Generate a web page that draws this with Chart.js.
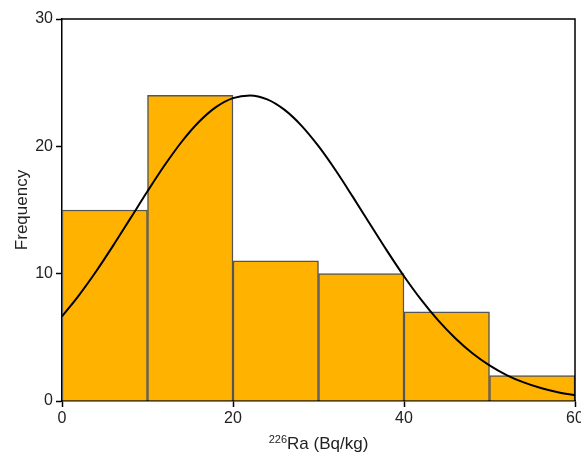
<!DOCTYPE html>
<html>
<head>
<meta charset="utf-8">
<script src="https://cdn.jsdelivr.net/npm/chart.js@4.4.1/dist/chart.umd.min.js"></script>
<style>
html, body { margin: 0; padding: 0; background: #fff; }
#wrap { width: 581px; height: 460px; }
</style>
</head>
<body>
<div id="wrap"><canvas id="histograma"></canvas></div>
<script>
// bin centres (Bq/kg) and counts, bins 10 wide
const centros = [5, 15, 25, 35, 45, 55];
const frecuencias = [15, 24, 11, 10, 7, 2];

// fitted normal curve, read every 2 Bq/kg
const curvaX = [0, 2, 4, 6, 8, 10, 12, 14, 16, 18, 20, 22, 24, 26, 28, 30,
  32, 34, 36, 38, 40, 42, 44, 46, 48, 50, 52, 54, 56, 58, 60];
const curvaY = [6.64, 8.32, 10.19, 12.22, 14.34, 16.47, 18.51, 20.36, 21.91, 23.08, 23.79, 24.0, 23.69, 22.88, 21.63, 20.01,
  18.12, 16.05, 13.92, 11.81, 9.8, 7.96, 6.33, 4.93, 3.75, 2.8, 2.04, 1.46, 1.02, 0.69, 0.46];

const ticksX = [0, 20, 40, 60];
const ticksY = [0, 10, 20, 30];

const fuente = "'Liberation Sans', Arial, sans-serif";

// frame on top/right + x title with superscript
const marco = {
  id: "marco",
  afterDraw(chart) {
    const { ctx, chartArea: a } = chart;
    ctx.save();
    ctx.strokeStyle = "#000";
    ctx.lineWidth = 1.5;
    ctx.beginPath();
    ctx.moveTo(a.left, a.top);
    ctx.lineTo(a.right, a.top);
    ctx.lineTo(a.right, a.bottom);
    ctx.stroke();

    const sup = "226", txt = "Ra (Bq/kg)";
    ctx.fillStyle = "#222";
    ctx.textBaseline = "alphabetic";
    ctx.font = "11px " + fuente;
    const wSup = ctx.measureText(sup).width;
    ctx.font = "17px " + fuente;
    const wTxt = ctx.measureText(txt).width;
    const x0 = (a.left + a.right) / 2 - (wSup + wTxt) / 2;
    const y0 = 449;
    ctx.font = "11px " + fuente;
    ctx.fillText(sup, x0, y0 - 6);
    ctx.font = "17px " + fuente;
    ctx.fillText(txt, x0 + wSup, y0);
    ctx.restore();
  }
};

new Chart(document.getElementById("histograma"), {
  data: {
    datasets: [
      {
        type: "line",
        data: curvaX.map((x, i) => ({ x: x, y: curvaY[i] })),
        borderColor: "#000",
        borderWidth: 2,
        borderJoinStyle: "round",
        pointRadius: 0,
        cubicInterpolationMode: "monotone",
        fill: false,
        order: 0
      },
      {
        type: "bar",
        data: centros.map((x, i) => ({ x: x, y: frecuencias[i] })),
        backgroundColor: "#FFB300",
        borderColor: "#555",
        borderWidth: 1.5,
        barPercentage: 1,
        categoryPercentage: 1,
        order: 1
      }
    ]
  },
  options: {
    responsive: true,
    maintainAspectRatio: false,
    animation: false,
    layout: { padding: { left: 0, top: 19, right: 6, bottom: 0 } },
    plugins: { legend: { display: false }, tooltip: { enabled: false } },
    scales: {
      x: {
        type: "linear",
        min: 0,
        max: 60,
        offset: false,
        afterFit(s) { s.height = 59; s.paddingRight = 0; s.paddingLeft = 0; },
        afterBuildTicks(s) { s.ticks = ticksX.map(v => ({ value: v })); },
        grid: { drawOnChartArea: false, drawTicks: true, tickLength: 6, tickColor: "#000", tickWidth: 1.5, offset: false },
        border: { color: "#000", width: 1.5 },
        ticks: { color: "#222", font: { family: fuente, size: 16 }, padding: 2, maxRotation: 0, autoSkip: false }
      },
      y: {
        min: 0,
        max: 30,
        afterFit(s) { s.width = 62; s.paddingTop = 0; s.paddingBottom = 0; },
        afterBuildTicks(s) { s.ticks = ticksY.map(v => ({ value: v })); },
        grid: { drawOnChartArea: false, drawTicks: true, tickLength: 6, tickColor: "#000", tickWidth: 1.5 },
        border: { color: "#000", width: 1.5 },
        ticks: { color: "#222", font: { family: fuente, size: 16 }, padding: 3 },
        title: {
          display: true,
          text: "Frequency",
          color: "#222",
          font: { family: fuente, size: 17 },
          padding: { top: 12, bottom: 0 }
        }
      }
    }
  },
  plugins: [marco]
});
</script>
</body>
</html>
